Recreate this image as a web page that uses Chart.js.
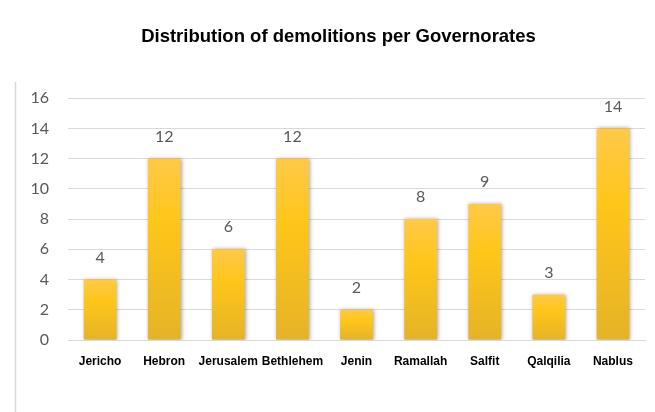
<!DOCTYPE html>
<html>
<head>
<meta charset="utf-8">
<script src="https://cdn.jsdelivr.net/npm/chart.js@4"></script>
<style>
  html, body { margin: 0; padding: 0; background: #fff; }
  #wrap { width: 655px; height: 412px; }
</style>
</head>
<body>
<div id="wrap"><canvas id="grafico" width="655" height="412"></canvas></div>
<script>
// dados do gráfico
const governorates = ['Jericho', 'Hebron', 'Jerusalem', 'Bethlehem', 'Jenin', 'Ramallah', 'Salfit', 'Qalqilia', 'Nablus'];
const demolitions = [4, 12, 6, 12, 2, 8, 9, 3, 14];
const yTicks = [0, 2, 4, 6, 8, 10, 12, 14, 16];

// gradiente dourado de cada barra (cima -> baixo)
function corBarra(context) {
  const chart = context.chart;
  const escala = chart.scales && chart.scales.y;
  if (!chart.chartArea || !escala) return '#FFC619';
  const topo = escala.getPixelForValue(context.raw);
  const base = escala.getPixelForValue(0);
  if (!isFinite(topo) || !isFinite(base) || topo === base) return '#FFC619';
  const g = chart.ctx.createLinearGradient(0, topo, 0, base);
  g.addColorStop(0, '#FFC94A');
  g.addColorStop(0.35, '#FFC619');
  g.addColorStop(1, '#E5B327');
  return g;
}

// sombra leve nas barras
const sombraPlugin = {
  id: 'sombra',
  beforeDatasetsDraw(chart) {
    const ctx = chart.ctx;
    ctx.save();
    ctx.shadowColor = 'rgba(0,0,0,0.35)';
    ctx.shadowBlur = 4;
    ctx.shadowOffsetX = 1;
    ctx.shadowOffsetY = 0;
  },
  afterDatasetsDraw(chart) {
    chart.ctx.restore();
  }
};

// rótulos de valores acima das barras + linha da moldura
const rotulosPlugin = {
  id: 'rotulos',
  afterDraw(chart) {
    const ctx = chart.ctx;
    const meta = chart.getDatasetMeta(0);
    ctx.save();
    ctx.font = '16px Lato';
    ctx.fillStyle = '#595959';
    ctx.textAlign = 'center';
    ctx.textBaseline = 'middle';
    meta.data.forEach(function(bar, i) {
      ctx.fillText(String(demolitions[i]), bar.x, bar.y - 22);
    });
    // linha vertical da moldura à esquerda
    ctx.strokeStyle = '#d9d9d9';
    ctx.lineWidth = 1.5;
    ctx.beginPath();
    ctx.moveTo(15.5, 82);
    ctx.lineTo(15.5, 412);
    ctx.stroke();
    ctx.restore();
  }
};

new Chart(document.getElementById('grafico'), {
  type: 'bar',
  data: {
    labels: governorates,
    datasets: [{
      data: demolitions,
      backgroundColor: corBarra,
      borderWidth: 0,
      categoryPercentage: 1,
      barPercentage: 0.51
    }]
  },
  options: {
    responsive: false,
    animation: false,
    layout: { padding: { left: 32, right: 10, top: 0, bottom: 0 } },
    plugins: {
      legend: { display: false },
      tooltip: { enabled: false },
      title: {
        display: true,
        text: 'Distribution of demolitions per Governorates',
        color: '#000',
        font: { family: 'Liberation Sans', size: 18.5, weight: 'bold' },
        padding: { top: 26, bottom: 50 }
      }
    },
    scales: {
      x: {
        grid: { display: false },
        border: { display: true, color: '#d9d9d9', width: 1 },
        ticks: {
          color: '#000',
          font: { family: 'Liberation Sans', size: 12, weight: 'bold' },
          padding: 6,
          maxRotation: 0,
          autoSkip: false
        },
        afterFit(scale) { scale.height = 72; }
      },
      y: {
        min: 0,
        max: 16,
        afterBuildTicks(scale) { scale.ticks = yTicks.map(function(v) { return { value: v }; }); },
        grid: { color: '#d9d9d9', drawTicks: false },
        border: { display: false },
        ticks: {
          color: '#595959',
          font: { family: 'Lato', size: 16 },
          padding: 19
        },
        afterFit(scale) { scale.width = 36; }
      }
    }
  },
  plugins: [sombraPlugin, rotulosPlugin]
});
</script>
</body>
</html>
